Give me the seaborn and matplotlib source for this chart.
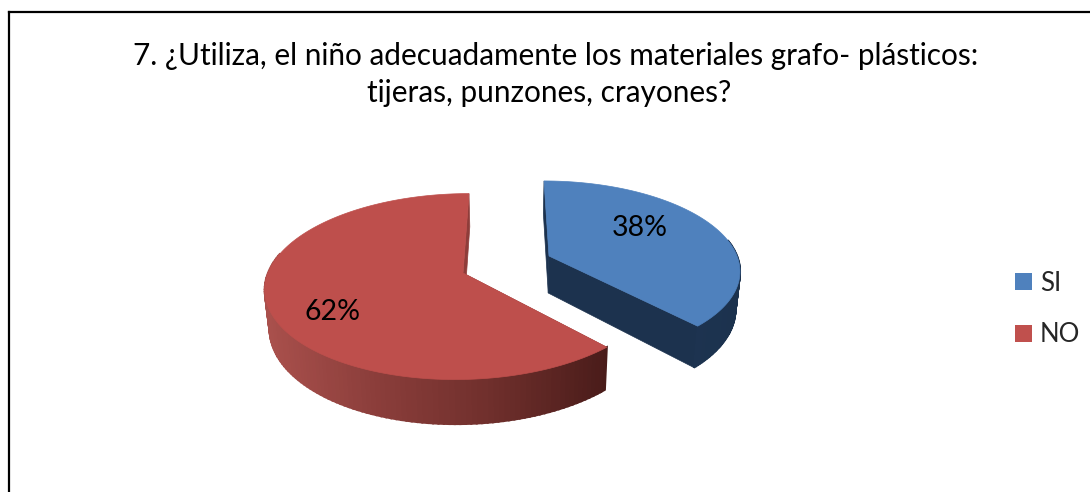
import numpy as np
import seaborn as sns
import matplotlib.pyplot as plt
from matplotlib.patches import Patch

title_lines = ["7. ¿Utiliza, el niño adecuadamente los materiales grafo- plásticos:",
               "tijeras, punzones, crayones?"]
categories = ["SI", "NO"]
shares = [38, 62]

top_colors = ["#4f81bd", "#be4f4c"]
cut_colors = ["#1c324e", "#8f3d3a"]
wall_ramps = [["#1f3856", "#1c324e"], ["#a9504c", "#8a3d3a", "#6f2f2c", "#4a1c1a"]]

# fake 3d pie: perspective projection, everything in image pixels
vanish_x = 510
persp = 0.146
apex_x = [549, 463]
apex_y = [256, 273]
rad_x = [188, 195]
rad_y = [86, 91]
depth = [37, 38]
shrink = 0.98
label_at = [(56.5, 0.623), (236.4, 0.737)]  # angle, radius


def project(i, theta, r=1.0, down=False):
    t = np.radians(theta)
    w = 1 + persp * r * np.cos(t)
    k = shrink if down else 1.0
    x = vanish_x + k * (apex_x[i] - vanish_x + rad_x[i] * r * np.sin(t)) / w
    y = apex_y[i] + ((depth[i] if down else 0) - rad_y[i] * r * np.cos(t)) / w
    return x, y


sns.set_theme(style="white")
plt.rcParams["font.family"] = ["Lato", "DejaVu Sans"]

fig = plt.figure(figsize=(10.9, 4.92), dpi=100)
ax = fig.add_axes([9 / 1090, 0, 1 - 9 / 1090, 1 - 12 / 492])
ax.set_xlim(9, 1090)
ax.set_ylim(492, 12)
ax.set_xticks([])
ax.set_yticks([])
for side in ["right", "bottom"]:
    ax.spines[side].set_visible(False)
for side in ["left", "top"]:
    ax.spines[side].set_color("black")
    ax.spines[side].set_linewidth(1.6)

ends = np.cumsum(shares) / sum(shares) * 360
starts = np.r_[0, ends[:-1]]

for i in range(len(shares)):
    thetas = np.linspace(starts[i], ends[i], 160)
    ramp = sns.blend_palette(wall_ramps[i], 120)

    # cut faces of the slice
    for th in (starts[i], ends[i]):
        p = [project(i, th), project(i, th, down=True), project(i, th, 0, down=True), project(i, th, 0)]
        ax.fill(*zip(*p), color=cut_colors[i], lw=0.5, zorder=2)

    # outer wall, front part only, shaded by screen position
    xs, ys = project(i, thetas)
    xb, yb = project(i, thetas, down=True)
    lo, hi = xs.min(), xs.max()
    for j in range(len(thetas) - 1):
        if np.cos(np.radians(thetas[j])) > 0.2:
            continue
        c = ramp[int((xs[j] - lo) / (hi - lo) * 119)]
        ax.fill([xs[j], xs[j + 1], xb[j + 1], xb[j]], [ys[j], ys[j + 1], yb[j + 1], yb[j]],
                color=c, lw=1.5, zorder=3)

    # top face
    ax.fill(np.r_[apex_x[i], xs], np.r_[apex_y[i], ys], color=top_colors[i], lw=0.5, zorder=4)

    lx, ly = project(i, label_at[i][0], label_at[i][1])
    ax.text(lx, ly, f"{shares[i]}%", ha="center", va="center", fontsize=20.5, color="black", zorder=5)

ax.text(556, 65, title_lines[0], ha="center", va="baseline", fontsize=21.4, color="black")
ax.text(549, 102, title_lines[1], ha="center", va="baseline", fontsize=21.4, color="black")

handles = [Patch(facecolor=c, edgecolor="none", label=n) for c, n in zip(["#4f81bd", "#c0504d"], categories)]
ax.legend(handles=handles, loc="center left", bbox_to_anchor=(1015, 309), bbox_transform=ax.transData,
          frameon=False, fontsize=18.5, handlelength=0.67, handleheight=0.67, handletextpad=0.3,
          labelspacing=1.05, borderpad=0, borderaxespad=0)

fig.savefig("out.png", dpi=100)
